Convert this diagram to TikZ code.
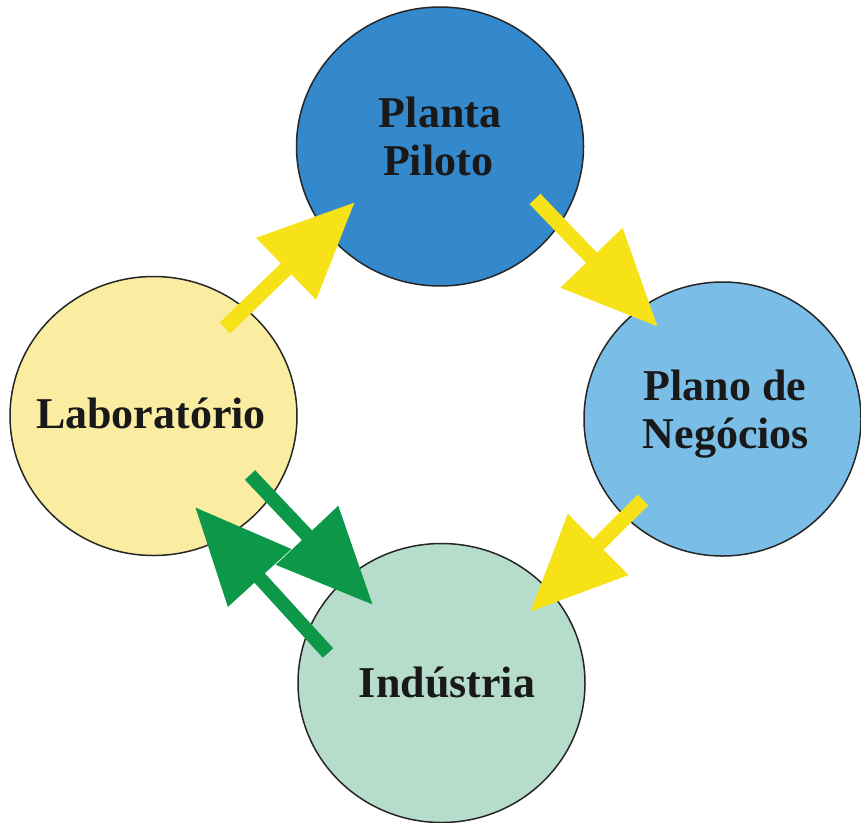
\documentclass[tikz,border=0pt]{standalone}
\usepackage{fontspec}
\setmainfont{Liberation Serif}
\usetikzlibrary{arrows.meta,shapes.geometric}
\definecolor{cPlanta}{RGB}{52,136,204}
\definecolor{cPlano}{RGB}{122,190,232}
\definecolor{cLab}{RGB}{250,237,162}
\definecolor{cInd}{RGB}{182,221,204}
\definecolor{cYel}{RGB}{246,226,22}
\definecolor{cGrn}{RGB}{12,152,72}
\begin{document}
\begin{tikzpicture}[x=1pt,y=-1pt,
  bubble/.style={ellipse, draw=black!85, line width=1.5pt, minimum width=287pt, minimum height=279pt, inner sep=0pt},
  lbl/.style={anchor=base, inner sep=0pt, font=\fontsize{44}{50}\selectfont\bfseries, text=black!90},
  yarrow/.style={draw=cYel, fill=cYel, line width=15pt, -{Triangle[length=96pt,width=82pt]}},
  garrow/.style={draw=cGrn, fill=cGrn, line width=14pt, -{Triangle[length=96pt,width=82pt]}}
]
\fill[white] (0,0) rectangle (861,822);
\useasboundingbox (0,0) rectangle (861,822);

\node[bubble, fill=cPlanta] (planta) at (440,146.5) {};
\node[bubble, fill=cLab] (lab) at (153.5,416) {};
\node[bubble, fill=cPlano, minimum width=277pt, minimum height=274pt] (plano) at (722.5,419) {};
\node[bubble, fill=cInd] (ind) at (441.5,683) {};

\node[lbl] (t1) at (440,127) {Planta};
\node[lbl] (t2) at (438,175) {Piloto};
\node[lbl] (t3) at (151,428) {Laboratório};
\node[lbl] (t4) at (725,400) {Plano de};
\node[lbl] (t5) at (726,448) {Negócios};
\node[lbl] (t6) at (447,697) {Indústria};

\coordinate (y1a) at (225,328); \coordinate (y1b) at (355,202);
\coordinate (y2a) at (535,199); \coordinate (y2b) at (658,327);
\coordinate (y3a) at (643,500); \coordinate (y3b) at (530,612);
\coordinate (g1a) at (250,475); \coordinate (g1b) at (373,605);
\coordinate (g2a) at (328,653); \coordinate (g2b) at (195,507);

\draw[yarrow] (y1a) -- (y1b);
\draw[yarrow] (y2a) -- (y2b);
\draw[yarrow] (y3a) -- (y3b);
\draw[garrow] (g1a) -- (g1b);
\draw[garrow] (g2a) -- (g2b);
\end{tikzpicture}
\end{document}
